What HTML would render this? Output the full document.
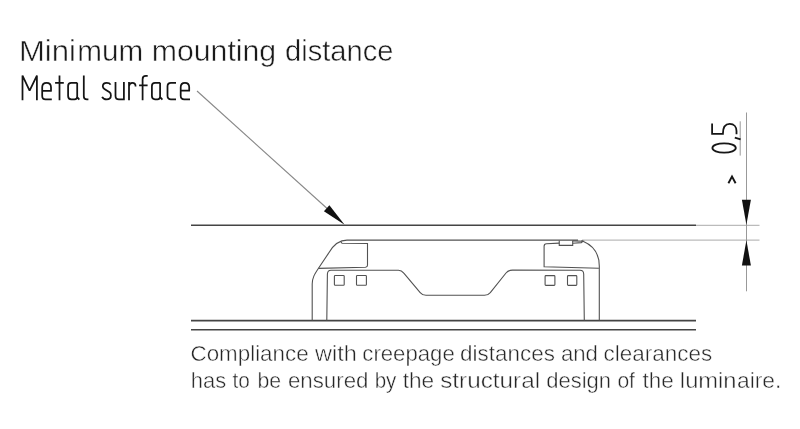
<!DOCTYPE html>
<html><head><meta charset="utf-8">
<style>
html,body{margin:0;padding:0;background:#fff;width:800px;height:429px;overflow:hidden}
svg{display:block}
text{font-family:"Liberation Sans",sans-serif;stroke:#fff;paint-order:normal}
svg{filter:grayscale(1)}
</style></head><body>
<svg width="800" height="429" viewBox="0 0 800 429">
<rect width="800" height="429" fill="#fff"/>
<!-- titles -->
<g font-size="29.5" fill="#1a1a1a" stroke-width="0.5">
<text x="18.9" y="60.5" textLength="56.94" lengthAdjust="spacingAndGlyphs">Mini</text>
<text x="77.28" y="60.5" textLength="65.93" lengthAdjust="spacingAndGlyphs">mum</text>
<text x="151.74" y="60.5" textLength="124.46" lengthAdjust="spacingAndGlyphs">mounting</text>
<text x="285.03" y="60.5" textLength="108.52" lengthAdjust="spacingAndGlyphs">distance</text>
</g>
<g fill="none" stroke="#141414" stroke-width="1.75" stroke-linejoin="round">
<path d="M22.5,100.2 V75.6 L29.6,90.7 L36.9,75.6 V100.2" stroke-linejoin="miter" stroke-miterlimit="2"/>
<path d="M42.2,90.9 V87.2 C42.2,84.4 44,82.8 46.6,82.8 C49.2,82.8 51,84.4 51,87.2 V90.9 H42.2 M42.2,90.9 V96 Q42.2,99.4 45.6,99.4 H51.8"/>
<path d="M59.5,75.4 V100.2 M55.1,82.8 H63.8"/>
<path d="M77.2,82.8 H71.3 Q68.1,82.8 68.1,86 V96 Q68.1,99.3 71.3,99.3 H74.5 Q77.2,99.3 77.2,96.5 M77.2,82.8 V97.2 L79.3,99.6"/>
<path d="M83.8,75.4 V96.2 Q83.8,99.3 86.9,99.3 H88.4"/>
<path d="M110.6,84.6 Q109.6,82.8 106.7,82.8 Q102.8,82.8 102.8,86.2 Q102.8,87.9 104.4,88.9 L109.6,92.2 Q110.9,93.1 110.9,95.6 Q110.9,99.4 106.7,99.4 Q103.4,99.4 102.1,96.8"/>
<path d="M115.5,82 V95.9 Q115.5,99.3 118.9,99.3 H123.9 M123.9,82 V100.2"/>
<path d="M129,82 V100.2 M129,86.2 Q129.4,82.8 132.3,82.8 Q135.6,82.8 135.6,86.4"/>
<path d="M142.6,100.2 V79.2 Q142.6,75.9 145.9,75.9 H147.7 M139.1,85.3 H147.6"/>
<path d="M160.1,82.8 H155 Q151.9,82.8 151.9,85.9 V96.1 Q151.9,99.3 155,99.3 H157.4 Q160.1,99.3 160.1,96.5 M160.1,82.8 V97.2 L162.4,99.6"/>
<path d="M176,82.8 H171 Q167.5,82.8 167.5,86.3 V95.7 Q167.5,99.3 171,99.3 H176"/>
<path d="M180.7,90.7 V87.3 C180.7,84.5 182.4,82.8 184.95,82.8 C187.5,82.8 189.2,84.5 189.2,87.3 V90.7 H180.7 M180.7,90.7 V95.7 Q180.7,99.3 184.2,99.3 H190"/>
</g>
<!-- leader -->
<line x1="197" y1="91" x2="336" y2="216.5" stroke="#888" stroke-width="1.1"/>
<polygon points="344.6,224.8 329.4,205.2 323.9,211.3" fill="#111"/>
<!-- surface lines -->
<line x1="191" y1="225.3" x2="696" y2="225.3" stroke="#444" stroke-width="1.6"/>
<line x1="696" y1="225.3" x2="759.5" y2="225.3" stroke="#aaa" stroke-width="1"/>
<line x1="582" y1="240.1" x2="759.5" y2="240.1" stroke="#aaa" stroke-width="1"/>
<line x1="191" y1="320.6" x2="696" y2="320.6" stroke="#444" stroke-width="1.6"/>
<line x1="191" y1="329.8" x2="696" y2="329.8" stroke="#444" stroke-width="1.6"/>
<!-- product -->
<g fill="none" stroke="#525252" stroke-width="1.1" stroke-linejoin="round">
<path d="M312.2,320.5 L312.2,284 C312.2,278 314.5,274.3 318.5,268.3 L328.3,253.6 C329.7,251.5 335,240.1 347,240.1 L578,240.1"/>
<path d="M581.5,240.5 C584,242 599.3,245.5 599.3,266 L599.3,320.5"/>
<!-- left clip -->
<path d="M340.7,241.5 L342,243.3 L367.5,243.5 L367.5,265.3 Q367.5,267.2 365.5,267.3 L318.5,268.4" stroke-linejoin="miter"/>
<!-- inner body -->
<path d="M326.8,320.5 L327.4,274 Q327.6,270.4 331,270.3 L398.5,270.2 Q401.5,270.2 403.8,273.2 L420.2,292.6 Q422.5,295.3 426,295.3 L484.5,295.3 Q488,295.3 490.3,292.6 L506,273 Q508.5,270.1 512.5,270.1 L580,270.2 Q583.6,270.2 583.7,274 L584.3,320.5"/>
<!-- right clip -->
<path d="M598.9,268.2 L544.1,266.8 L544.1,246.2 Q544.1,243.8 546.5,243.7 L559.25,243.1" stroke-linejoin="miter"/>
<path d="M559.25,240.4 L559.25,245.4 L572.7,245.4 L572.7,240.4" stroke-linejoin="miter"/>
<path d="M572.7,243.2 L581.3,242.6 L583,241.2 L572.7,240.9" stroke-linejoin="miter"/>
<!-- squares -->
<rect x="334.4" y="275.5" width="9.8" height="9.7" rx="0.8"/>
<rect x="356.5" y="275.5" width="9.9" height="9.7" rx="0.8"/>
<rect x="545.1" y="275.6" width="9.8" height="9.8" rx="0.8"/>
<rect x="567.5" y="275.6" width="9.3" height="9.8" rx="0.8"/>
</g>
<!-- dimension -->
<line x1="746.5" y1="112.5" x2="746.5" y2="291.3" stroke="#999" stroke-width="1"/>
<line x1="740.2" y1="121.3" x2="740.2" y2="155.6" stroke="#999" stroke-width="1"/>
<polygon points="741.9,199.8 750.9,199.8 746.4,224.8" fill="#111"/>
<polygon points="741.9,265.5 750.9,265.5 746.4,240.2" fill="#111"/>
<g fill="none" stroke="#161616" stroke-width="1.8">
<path d="M712.1,123.6 V133.9 H722.9 C722.9,127.2 725.3,123.9 729.7,123.9 C734.3,123.9 736.5,127.2 736.5,131 V134.2"/>
<path d="M734.8,137.6 L740.6,139.4" stroke-width="1.9"/>
<ellipse cx="724.1" cy="148" rx="11.7" ry="4.7"/>
<polyline points="728.4,183.3 732,176.6 735.6,183.3" stroke-width="1.9" stroke-linejoin="miter"/>
</g>
<!-- caption -->
<g font-size="21.6" fill="#262626" stroke-width="0.45">
<text x="190.54" y="360.9" textLength="118.08" lengthAdjust="spacingAndGlyphs">Compliance</text>
<text x="315.01" y="360.9" textLength="41.74" lengthAdjust="spacingAndGlyphs">with</text>
<text x="362.33" y="360.9" textLength="92.38" lengthAdjust="spacingAndGlyphs">creepage</text>
<text x="460.13" y="360.9" textLength="94.8" lengthAdjust="spacingAndGlyphs">distances</text>
<text x="560.93" y="360.9" textLength="37.02" lengthAdjust="spacingAndGlyphs">and</text>
<text x="603.62" y="360.9" textLength="108.51" lengthAdjust="spacingAndGlyphs">clearances</text>
<text x="190.85" y="388.1" textLength="35.36" lengthAdjust="spacingAndGlyphs">has</text>
<text x="232.46" y="388.1" textLength="17.34" lengthAdjust="spacingAndGlyphs">to</text>
<text x="257.5" y="388.1" textLength="23.67" lengthAdjust="spacingAndGlyphs">be</text>
<text x="287.93" y="388.1" textLength="80.53" lengthAdjust="spacingAndGlyphs">ensured</text>
<text x="374.65" y="388.1" textLength="21.72" lengthAdjust="spacingAndGlyphs">by</text>
<text x="402.73" y="388.1" textLength="31.5" lengthAdjust="spacingAndGlyphs">the</text>
<text x="440.2" y="388.1" textLength="99.95" lengthAdjust="spacingAndGlyphs">structural</text>
<text x="546.25" y="388.1" textLength="64.8" lengthAdjust="spacingAndGlyphs">design</text>
<text x="617.39" y="388.1" textLength="17.61" lengthAdjust="spacingAndGlyphs">of</text>
<text x="642.64" y="388.1" textLength="31.19" lengthAdjust="spacingAndGlyphs">the</text>
<text x="679.88" y="388.1" textLength="56.69" lengthAdjust="spacingAndGlyphs">lumin</text>
<text x="737.01" y="388.1" textLength="44.3" lengthAdjust="spacingAndGlyphs">aire.</text>
</g>
</svg>
</body></html>
